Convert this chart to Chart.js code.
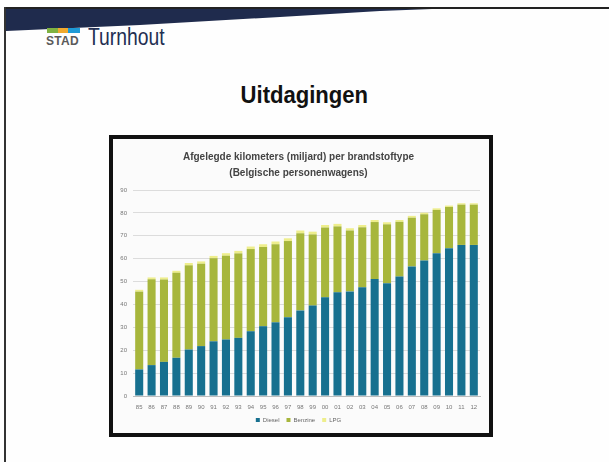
<!DOCTYPE html>
<html>
<head>
<meta charset="utf-8">
<script src="https://cdn.jsdelivr.net/npm/chart.js@4.4.1/dist/chart.umd.min.js"></script>
<style>
  html, body { margin: 0; padding: 0; background: #fff; }
  #slide { position: relative; width: 609px; height: 462px; overflow: hidden; background: #fefefe; font-family: "Liberation Sans", Arial, sans-serif; }
  #topline { position: absolute; left: 4px; top: 7px; width: 605px; height: 2px; background: #222; }
  #leftline { position: absolute; left: 4px; top: 7px; width: 2px; height: 455px; background: #333; }
  #wedge { position: absolute; left: 0; top: 0; }
  .bar { position: absolute; top: 28px; height: 5px; }
  #stad { position: absolute; left: 46px; top: 34px; font-size: 12px; font-weight: bold; color: #5a5a5a; letter-spacing: 0.3px; }
  #turnhout { position: absolute; left: 88px; top: 24px; font-size: 23px; color: #232f52; transform: scaleX(0.84); transform-origin: left top; }
  #heading { position: absolute; left: 0; width: 609px; top: 81px; text-align: center; font-size: 24px; font-weight: bold; color: #111; }
  #heading span { display: inline-block; transform: scaleX(0.92); }
  #box { position: absolute; left: 109px; top: 135px; width: 376px; height: 294px; border: 4px solid #111; background: #fbfbfb; }
  #box canvas { display: block; }
</style>
</head>
<body>
<div id="slide">
  <svg id="wedge" width="609" height="40">
    <path d="M6,9 L432,9 L380,11 L280,17 L140,25 L6,31 Z" fill="#1f2b4d"/>
  </svg>
  <div id="topline"></div>
  <div id="leftline"></div>
  <div class="bar" style="left:47px;width:11px;background:#7fb241"></div>
  <div class="bar" style="left:58px;width:10px;background:#f0a92e"></div>
  <div class="bar" style="left:68px;width:12px;background:#1e9ad6"></div>
  <div id="stad">STAD</div>
  <div id="turnhout">Turnhout</div>
  <div id="heading"><span>Uitdagingen</span></div>
  <div id="box"><canvas id="chart" width="376" height="294"></canvas></div>
</div>
<script>
/*** Data ***/
const years = ['85', '86', '87', '88', '89', '90', '91', '92', '93', '94', '95', '96', '97', '98',
               '99', '00', '01', '02', '03', '04', '05', '06', '07', '08', '09', '10', '11', '12'];
const diesel = [11.6, 13.5, 14.9, 16.7, 20.3, 21.8, 23.9, 24.7, 25.4, 28.3, 30.5, 32.2, 34.4, 37.4,
                39.5, 43.1, 45.3, 45.7, 47.5, 51.1, 49.3, 52.2, 56.6, 59.2, 62.4, 64.6, 66.0, 66.0];
const benzine = [34.0, 37.5, 36.0, 37.1, 36.8, 36.0, 36.3, 36.6, 36.9, 35.9, 34.6, 34.1, 33.3, 33.7,
                 31.1, 30.5, 28.8, 26.6, 26.2, 24.9, 25.7, 23.9, 21.3, 20.2, 18.9, 18.0, 17.6, 17.6];
const lpg = [0.8, 0.8, 0.9, 0.9, 1.0, 1.0, 1.0, 1.1, 1.1, 1.1, 1.2, 1.2, 1.2, 1.2,
             1.2, 1.1, 1.1, 1.0, 1.0, 0.9, 0.9, 0.8, 0.8, 0.7, 0.7, 0.6, 0.6, 0.6];
const yTicks = [0, 10, 20, 30, 40, 50, 60, 70, 80, 90];

/*** Chart ***/
const ctx = document.getElementById('chart').getContext('2d');
Chart.defaults.font.family = '"Liberation Sans", Arial, sans-serif';

function makeSet(label, values, color) {
    return {
        label: label,
        data: values,
        backgroundColor: color,
        borderWidth: 0,
        barPercentage: 0.65,
        categoryPercentage: 1
    };
}

new Chart(ctx, {
    type: 'bar',
    data: {
        labels: years,
        datasets: [
            makeSet('Diesel', diesel, '#17708f'),
            makeSet('Benzine', benzine, '#a7b63c'),
            makeSet('LPG', lpg, '#eeee8c')
        ]
    },
    options: {
        responsive: false,
        animation: false,
        layout: { padding: { left: 4, right: 9, top: 0, bottom: 0 } },
        plugins: {
            title: {
                display: true,
                text: ['Afgelegde kilometers (miljard) per brandstoftype', '(Belgische personenwagens)'],
                color: '#444',
                font: { size: 10, weight: 'bold', lineHeight: 1.6 },
                padding: { top: 10, bottom: 9 }
            },
            legend: {
                position: 'bottom',
                labels: {
                    boxWidth: 4,
                    boxHeight: 4,
                    padding: 7,
                    color: '#666',
                    font: { size: 6 }
                }
            },
            tooltip: { enabled: false }
        },
        scales: {
            x: {
                stacked: true,
                grid: { display: false, drawTicks: false },
                border: { color: '#bdbdbd' },
                ticks: { font: { size: 6 }, color: '#777', padding: 8, maxRotation: 0, autoSkip: false },
                afterFit: function (scale) { scale.height = 14; }
            },
            y: {
                stacked: true,
                min: 0,
                max: 90,
                afterBuildTicks: function (scale) { scale.ticks = yTicks.map(v => ({ value: v })); },
                grid: { color: '#dcdcdc', drawTicks: false },
                border: { display: false },
                ticks: { font: { size: 6 }, color: '#777', padding: 6 },
                afterFit: function (scale) { scale.width = 16; }
            }
        }
    }
});
</script>
</body>
</html>
